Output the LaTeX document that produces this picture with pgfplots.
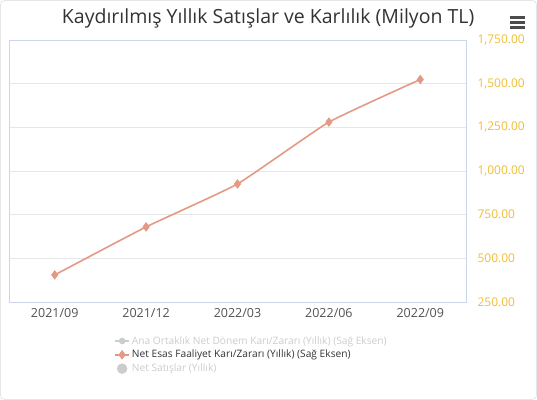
\documentclass[border=0pt]{standalone}
\usepackage{pgfplots}
\pgfplotsset{compat=1.18}
\usepackage{fontspec}
\setmainfont{Open Sans}

\definecolor{salmon}{RGB}{228,153,133}
\definecolor{ticky}{RGB}{240,190,50}
\definecolor{frameblue}{RGB}{204,214,235}
\definecolor{gridgray}{RGB}{230,230,230}
\definecolor{hidden}{RGB}{204,204,204}
\definecolor{txt}{RGB}{51,51,51}

\begin{document}
\begin{tikzpicture}
\begin{axis}[
  scale only axis,
  width=457pt, height=262pt,
  clip=false,
  xmin=-0.5, xmax=4.5,
  ymin=250, ymax=1750,
  xtick={0,1,2,3,4},
  xticklabels={2021/09,2021/12,2022/03,2022/06,2022/09},
  ytick={250,500,...,1750},
  yticklabel pos=right,
  tick style={draw=none},
  ymajorgrids,
  major grid style={gridgray, line width=0.8pt},
  axis line style={frameblue, line width=0.8pt},
  /pgf/number format/.cd, fixed, fixed zerofill, precision=2, 1000 sep={,}, assume math mode=true,
  /pgfplots/.cd,
  yticklabel style={font=\fontsize{12}{14}\selectfont, text=ticky, anchor=west, xshift=8pt},
  xticklabel style={font=\fontsize{12.5}{14}\selectfont, text=txt!85, yshift=-3pt},
  legend cell align=left,
  legend style={draw=none, fill=none, font=\fontsize{10.2}{12}\selectfont,
    at={(rel axis cs:0.2235,-0.115)}, anchor=north west,
    row sep=0.6pt},
  legend image code/.code={
    \draw[#1] (0pt,0pt) -- (14pt,0pt);
    \path[#1, mark repeat=2, mark phase=2] plot coordinates {(0pt,0pt) (7pt,0pt)};
  },
]
% border and menu icon
\draw[gridgray, rounded corners=4pt, line width=0.8pt] (rel axis cs:-0.0186,-0.372) rectangle (rel axis cs:1.1543,1.1508);
\path[use as bounding box] (rel axis cs:-0.0197,-0.374) rectangle (rel axis cs:1.1554,1.1527);
\node[font=\fontsize{19.5}{22}\selectfont, text=txt] at (rel axis cs:0.567,1.084) {Kaydırılmış Yıllık Satışlar ve Karlılık (Milyon TL)};
\draw[gray!60!black, line width=3pt] (rel axis cs:1.0963,1.0878) -- (rel axis cs:1.1291,1.0878);
\draw[gray!60!black, line width=3pt] (rel axis cs:1.0963,1.0687) -- (rel axis cs:1.1291,1.0687);
\draw[gray!60!black, line width=3pt] (rel axis cs:1.0963,1.0496) -- (rel axis cs:1.1291,1.0496);

\addlegendimage{hidden, line width=1.5pt, mark=*, mark size=2.5pt, mark options={fill=hidden, draw=hidden}}
\addlegendentry[text=hidden]{Ana Ortaklık Net Dönem Karı/Zararı (Yıllık) (Sağ Eksen)}

\addplot[salmon, line width=1.6pt, mark=diamond*, mark size=3.5pt, mark options={fill=salmon, draw=salmon}, smooth, tension=0.25]
coordinates {
(0, 405)
(1, 680)
(2, 926)
(3, 1280)
(4, 1524)
};
\addlegendentry[text=txt]{Net Esas Faaliyet Karı/Zararı (Yıllık) (Sağ Eksen)}

\addlegendimage{legend image code/.code={\fill[hidden] (7pt,0pt) circle (5pt);}}
\addlegendentry[text=hidden]{Net Satışlar (Yıllık)}
\end{axis}
\end{tikzpicture}
\end{document}
